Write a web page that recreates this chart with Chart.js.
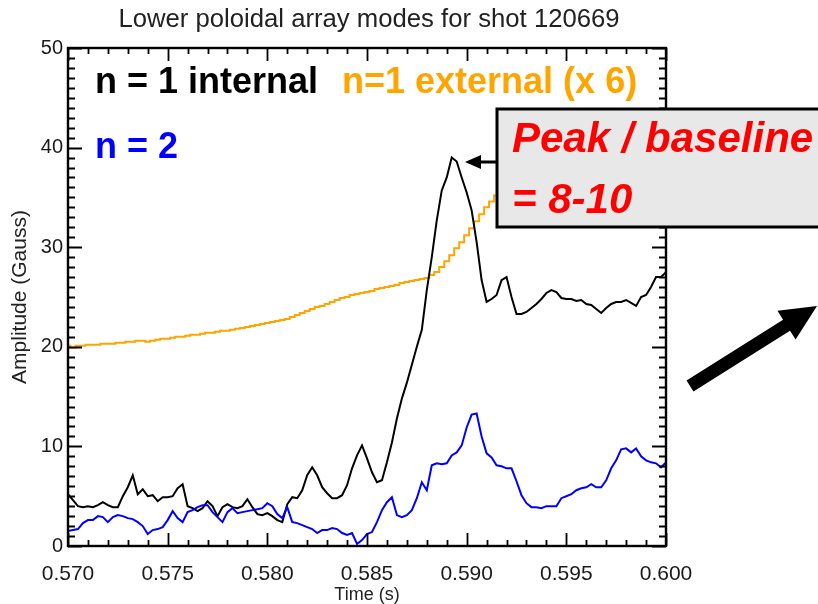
<!DOCTYPE html>
<html lang="en">
<head>
    <meta charset="UTF-8">
    <title>Lower poloidal array modes for shot 120669</title>
    <script src="https://cdn.jsdelivr.net/npm/chart.js"></script>
    <style>
        html, body { margin: 0; padding: 0; background: #fff; }
        canvas { display: block; }
    </style>
</head>
<body>
    <canvas id="modeChart" width="818" height="604"></canvas>

    <script>
        // time base: samples every 0.25 ms from 0.570 s
        const tStart = 0.570;
        const tStep = 0.00025;

        // n = 1 internal (Gauss)
        const n1Internal = [
            5.2, 4.6, 4.0, 3.9, 4.0, 3.9, 4.1, 4.4, 4.1, 3.9,
            3.9, 5.0, 5.9, 7.1, 5.2, 5.7, 5.0, 5.1, 4.5, 4.9,
            4.9, 5.0, 5.8, 6.2, 4.0, 3.8, 3.5, 3.8, 4.5, 4.0,
            3.0, 3.9, 4.2, 3.9, 3.8, 4.0, 4.7, 3.9, 3.2, 3.1,
            3.3, 3.0, 2.6, 2.4, 4.2, 4.9, 4.8, 5.6, 7.1, 7.9,
            7.1, 5.9, 5.3, 4.8, 4.8, 5.1, 6.1, 7.8, 9.1, 10.1,
            8.8, 7.4, 6.4, 6.6, 8.4, 10.4, 12.8, 14.8, 16.4, 18.2,
            20.0, 21.7, 25.7, 29.0, 32.7, 35.7, 37.0, 39.0, 38.6, 37.0,
            35.5, 33.7, 30.5, 26.7, 24.5, 24.8, 25.2, 26.7, 27.0, 25.0,
            23.3, 23.3, 23.5, 23.9, 24.3, 24.8, 25.4, 25.7, 25.5, 24.9,
            24.8, 24.8, 24.6, 24.7, 24.3, 24.2, 23.8, 23.4, 23.9, 24.3,
            24.5, 24.5, 24.7, 24.4, 24.1, 25.0, 25.2, 26.0, 27.0, 27.0,
            27.5
        ];

        // n = 1 external, already multiplied by 6
        const n1External = [
            20.1, 19.9, 20.1, 20.1, 20.2, 20.2, 20.2, 20.3, 20.3, 20.3,
            20.4, 20.4, 20.5, 20.5, 20.6, 20.6, 20.5, 20.6, 20.7, 20.8,
            20.8, 20.9, 21.0, 21.0, 21.1, 21.2, 21.2, 21.3, 21.4, 21.4,
            21.5, 21.6, 21.6, 21.7, 21.8, 21.9, 22.0, 22.1, 22.2, 22.3,
            22.4, 22.5, 22.6, 22.7, 22.8, 23.0, 23.2, 23.4, 23.6, 23.8,
            24.0, 24.1, 24.3, 24.5, 24.7, 24.9, 25.0, 25.2, 25.3, 25.4,
            25.5, 25.6, 25.8, 25.9, 26.0, 26.1, 26.2, 26.4, 26.5, 26.6,
            26.7, 26.8, 26.9, 27.2, 27.5, 28.0, 28.6, 29.2, 29.9, 30.5,
            31.2, 31.9, 32.6, 33.3, 34.0, 34.6, 35.2, 35.8, 36.4, 37.0,
            37.5, 38.0, 38.4, 38.8, 39.2, 39.5, 39.8, 40.0, 40.2, 40.4,
            40.6, 40.7, 40.8, 40.9, 41.0, 41.1, 41.2, 41.2, 41.3, 41.4,
            41.4, 41.5, 41.5, 41.6, 41.6, 41.7, 41.7, 41.8, 41.8, 41.9,
            41.9
        ];

        // n = 2 (Gauss)
        const n2Mode = [
            1.5, 1.6, 1.7, 2.3, 2.6, 2.6, 3.0, 2.9, 2.4, 2.9,
            3.1, 3.0, 2.8, 2.7, 2.4, 2.0, 1.2, 1.6, 1.7, 1.9,
            2.6, 3.5, 2.8, 2.4, 3.4, 3.6, 3.9, 4.1, 4.1, 3.4,
            2.9, 2.4, 3.4, 3.8, 3.3, 3.4, 3.5, 3.6, 3.7, 3.8,
            4.3, 4.0, 3.2, 2.8, 3.9, 2.4, 2.3, 2.1, 1.9, 1.7,
            1.3, 1.6, 1.6, 1.8, 1.7, 1.3, 1.1, 1.3, 0.2, 0.6,
            1.2, 1.4, 2.4, 3.6, 4.4, 4.9, 3.1, 2.9, 3.1, 3.6,
            4.8, 6.4, 5.6, 8.1, 8.3, 8.2, 8.3, 9.1, 9.4, 10.1,
            11.9, 13.2, 13.3, 11.0, 9.3, 8.9, 8.1, 8.0, 7.8, 7.8,
            6.5, 5.1, 4.3, 3.9, 3.9, 3.8, 4.0, 4.0, 4.0, 4.8,
            5.0, 5.2, 5.6, 5.8, 5.9, 6.2, 5.9, 5.9, 6.6, 7.8,
            8.6, 9.7, 9.8, 9.4, 9.8, 9.0, 8.6, 8.4, 8.3, 7.9,
            8.4
        ];

        const titleText = "Lower poloidal array modes for shot 120669";
        const xTitle = "Time (s)";
        const yTitle = "Amplitude (Gauss)";
        const legendLabels = ["n = 1 internal", "n=1 external (x 6)", "n = 2"];
        const noteLines = ["Peak / baseline", "= 8-10"];

        const times = n1Internal.map((_, i) => tStart + i * tStep);
        const toPoints = arr => arr.map((v, i) => ({ x: times[i], y: v }));

        const FONT = '"Liberation Sans", Arial, sans-serif';

        // frame with inward ticks on all four sides, plus the text and arrows
        const framePlugin = {
            id: "frame",
            afterDatasetsDraw(chart) {
                const { ctx, chartArea: a, scales: { x, y } } = chart;
                ctx.save();
                ctx.strokeStyle = "#000";
                ctx.lineWidth = 2.4;
                ctx.strokeRect(a.left, a.top, a.right - a.left, a.bottom - a.top);
                ctx.lineWidth = 1.8;
                ctx.beginPath();
                for (let v = 0; v <= 50; v++) {
                    const py = Math.round(y.getPixelForValue(v)) + 0.5;
                    const len = v % 10 === 0 ? 14 : 7;
                    ctx.moveTo(a.left, py); ctx.lineTo(a.left + len, py);
                    ctx.moveTo(a.right, py); ctx.lineTo(a.right - len, py);
                }
                for (let i = 0; i <= 30; i++) {
                    const px = Math.round(x.getPixelForValue(0.570 + i * 0.001)) + 0.5;
                    const len = i % 5 === 0 ? 13 : 6;
                    ctx.moveTo(px, a.bottom); ctx.lineTo(px, a.bottom - len);
                    ctx.moveTo(px, a.top); ctx.lineTo(px, a.top + len);
                }
                ctx.stroke();
                ctx.restore();
            },
            afterDraw(chart) {
                const { ctx, chartArea: a } = chart;
                const midX = (a.left + a.right) / 2;
                ctx.save();

                // title and axis titles
                ctx.fillStyle = "#222";
                ctx.textAlign = "center";
                ctx.textBaseline = "alphabetic";
                ctx.font = "25.7px " + FONT;
                ctx.fillText(titleText, midX + 2, 27);
                ctx.font = "18px " + FONT;
                ctx.fillText(xTitle, midX, 600);
                ctx.save();
                ctx.translate(26, 297);
                ctx.rotate(-Math.PI / 2);
                ctx.font = "21px " + FONT;
                ctx.fillText(yTitle, 0, 0);
                ctx.restore();

                // legend text
                ctx.textAlign = "left";
                ctx.font = "bold 36px " + FONT;
                ctx.fillStyle = "#000";
                ctx.fillText(legendLabels[0], 95, 93);
                ctx.fillStyle = "#FFA500";
                ctx.fillText(legendLabels[1], 342, 93);
                ctx.fillStyle = "#0000FF";
                ctx.fillText(legendLabels[2], 95, 158);

                // note box
                ctx.fillStyle = "#E8E8E8";
                ctx.fillRect(497, 109, 330, 118);
                ctx.strokeStyle = "#000";
                ctx.lineWidth = 3;
                ctx.strokeRect(497, 109, 330, 118);
                ctx.fillStyle = "#FF0000";
                ctx.font = "italic bold 42px " + FONT;
                ctx.fillText(noteLines[0], 512, 152);
                ctx.fillText(noteLines[1], 512, 213);

                // pointer to the peak
                ctx.fillStyle = "#000";
                ctx.lineWidth = 3;
                ctx.beginPath();
                ctx.moveTo(496, 162); ctx.lineTo(478, 162);
                ctx.stroke();
                ctx.beginPath();
                ctx.moveTo(465, 162); ctx.lineTo(481, 155); ctx.lineTo(481, 169);
                ctx.closePath();
                ctx.fill();

                // large arrow at the right
                const tail = { x: 690, y: 386 }, tip = { x: 817, y: 306 };
                const ang = Math.atan2(tip.y - tail.y, tip.x - tail.x);
                const len = Math.hypot(tip.x - tail.x, tip.y - tail.y);
                ctx.translate(tail.x, tail.y);
                ctx.rotate(ang);
                const hw = 6.5, headLen = 36, headW = 17;
                ctx.beginPath();
                ctx.moveTo(0, -hw);
                ctx.lineTo(len - headLen, -hw);
                ctx.lineTo(len - headLen, -headW);
                ctx.lineTo(len, 0);
                ctx.lineTo(len - headLen, headW);
                ctx.lineTo(len - headLen, hw);
                ctx.lineTo(0, hw);
                ctx.closePath();
                ctx.fill();
                ctx.restore();
            }
        };

        const ctx = document.getElementById("modeChart").getContext("2d");
        const modeChart = new Chart(ctx, {
            type: "line",
            data: {
                datasets: [
                    { label: legendLabels[2], data: toPoints(n2Mode), borderColor: "#0000FF" },
                    { label: legendLabels[0], data: toPoints(n1Internal), borderColor: "#000000" },
                    { label: legendLabels[1], data: toPoints(n1External), borderColor: "#FFA500", stepped: "middle" }
                ]
            },
            options: {
                responsive: false,
                animation: false,
                devicePixelRatio: 1,
                layout: { padding: { left: 0, right: 152, top: 48, bottom: 0 } },
                elements: {
                    line: { borderWidth: 2, tension: 0 },
                    point: { radius: 0 }
                },
                plugins: { legend: { display: false }, tooltip: { enabled: false } },
                scales: {
                    x: {
                        type: "linear",
                        min: 0.570,
                        max: 0.600,
                        grid: { display: false, drawTicks: false },
                        border: { display: false },
                        afterFit: s => { s.height = 58; },
                        afterBuildTicks: s => {
                            s.ticks = [0.570, 0.575, 0.580, 0.585, 0.590, 0.595, 0.600].map(v => ({ value: v }));
                        },
                        ticks: {
                            maxRotation: 0,
                            autoSkip: false,
                            padding: 16,
                            color: "#1a1a1a",
                            font: { family: FONT, size: 21 },
                            callback: v => v.toFixed(3)
                        }
                    },
                    y: {
                        min: 0,
                        max: 50,
                        grid: { display: false, drawTicks: false },
                        border: { display: false },
                        afterFit: s => { s.width = 68; },
                        ticks: {
                            stepSize: 10,
                            padding: 5,
                            color: "#1a1a1a",
                            font: { family: FONT, size: 20 }
                        }
                    }
                }
            },
            plugins: [framePlugin]
        });
    </script>
</body>
</html>
